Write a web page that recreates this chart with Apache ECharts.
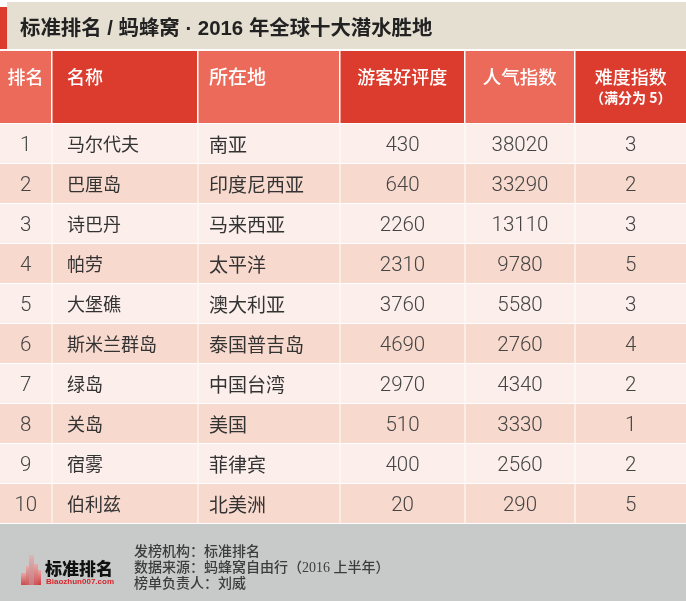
<!DOCTYPE html>
<html><head><meta charset="utf-8">
<style>html,body{margin:0;padding:0;background:#fff}#c{width:686px;height:601px}</style>
<script src="https://cdn.jsdelivr.net/npm/echarts@6/dist/echarts.min.js"></script>
</head><body><div id="c"></div>
<script>
const heading = '标准排名 / 蚂蜂窝 · 2016 年全球十大潜水胜地';
const columns = ['排名','名称','所在地','游客好评度','人气指数','难度指数'];
const subNote = '（满分为 5）';
const ranks = ['1','2','3','4','5','6','7','8','9','10'];
const names = ['马尔代夫','巴厘岛','诗巴丹','帕劳','大堡礁','斯米兰群岛','绿岛','关岛','宿雾','伯利兹'];
const places = ['南亚','印度尼西亚','马来西亚','太平洋','澳大利亚','泰国普吉岛','中国台湾','美国','菲律宾','北美洲'];
const rating = [430,640,2260,2310,3760,4690,2970,510,400,20];
const popularity = [38020,33290,13110,9780,5580,2760,4340,3330,2560,290];
const difficulty = [3,2,3,5,3,4,2,1,2,5];
const footerLines = ['发榜机构：标准排名','数据来源：蚂蜂窝自由行（2016 上半年）','榜单负责人：刘威'];
const logoName = '标准排名';
const logoSite = 'Biaozhun007.com';

const colEdges = [0,52.5,198.5,340.5,465.5,575.5,686];
const colAlign = ['center','left','left','center','center','center'];
const colPad = [0,14.5,10.5,0,0,0];
const bodyFont = [20.5,18,19,20.5,20.5,20.5];
const headFont = [18,18,19,18,18.5,18];
const HEAD_L='#ec6a5a', HEAD_D='#db3c2e', ROW_L='#fbeeeb', ROW_D='#f7d9ce';
const CJK = '"Noto Sans CJK SC","Noto Sans",sans-serif';
const LATIN = 'Roboto,"Liberation Sans",sans-serif';
const MIXED = '"Liberation Sans","Noto Sans CJK SC",sans-serif';

const bodyData = [];
ranks.forEach((rk,i)=>{
  [rk,names[i],places[i],rating[i],popularity[i],difficulty[i]].forEach((v,c)=>{
    bodyData.push({col:c,row:i,text:String(v),value:[colEdges[c],rk]});
  });
});
const headData = columns.map((t,c)=>({col:c,text:t,value:[colEdges[c],'head']}));

function cellRect(api, col, gapR, gapB){
  const a = api.coord([colEdges[col], api.value(1)]);
  const bandH = api.size([0,1])[1];
  const x1 = api.coord([colEdges[col+1], api.value(1)])[0];
  return {x:a[0], y:a[1]-bandH/2, width:x1-a[0]-gapR, height:bandH-gapB};
}
function textPos(col, r){
  return colAlign[col]==='left' ? r.x+colPad[col] : r.x+r.width/2;
}
function renderBody(params, api){
  const d = bodyData[params.dataIndex], col = d.col;
  const r = cellRect(api, col, col===5?0:1, 1);
  const numeric = col===0||col>=3;
  return {type:'group',children:[
    {type:'rect',shape:r,style:{fill:d.row%2?ROW_D:ROW_L}},
    {type:'text',x:textPos(col,r),y:r.y+r.height/2+(numeric?2:1),style:{
      text:d.text,align:colAlign[col],verticalAlign:'middle',
      fontFamily:numeric?LATIN:CJK,fontSize:bodyFont[col],fontWeight:numeric?300:400,
      fill:numeric?'#444444':'#333333'}}
  ]};
}
function renderHead(params, api){
  const d = headData[params.dataIndex], col = d.col;
  const r = cellRect(api, col, col===5?0:1.5, 0);
  const kids = [
    {type:'rect',shape:r,style:{fill:col%2?HEAD_D:HEAD_L}},
    {type:'text',x:textPos(col,r),y:r.y+26,style:{
      text:d.text,align:colAlign[col],verticalAlign:'middle',
      fontFamily:CJK,fontSize:headFont[col],fontWeight:500,fill:'#fff'}}
  ];
  if(col===5) kids.push({type:'text',x:r.x+r.width/2,y:r.y+47,style:{
    text:subNote,align:'center',verticalAlign:'middle',fontFamily:CJK,fontSize:14,fontWeight:700,fill:'#fff'}});
  return {type:'group',children:kids};
}

const logoBars = [[21,573,5,12,.8],[26,566,3,19,.7],[29,555,5,30,.5],[34,564,4,21,.75],[38,570,3,15,.9]];
const graphicEls = [
  {type:'rect',silent:true,shape:{x:7,y:2,width:679,height:47},style:{fill:'#e5dfd2'}},
  {type:'rect',silent:true,shape:{x:0,y:7,width:7,height:42},style:{fill:'#db3c2e'}},
  {type:'rect',silent:true,shape:{x:0,y:524,width:686,height:77},style:{fill:'#c8caca'}},
  {type:'text',silent:true,x:20,y:29,style:{text:heading,fontFamily:MIXED,fontSize:20.4,fontWeight:700,fill:'#222',verticalAlign:'middle'}},
  ...logoBars.map(b=>({type:'rect',silent:true,shape:{x:b[0],y:b[1],width:b[2],height:b[3]},
    style:{fill:new echarts.graphic.LinearGradient(0,0,0,1,[{offset:0,color:'#f0a0a0'},{offset:1,color:'#cf2a2e'}]),opacity:b[4]}})),
  {type:'text',silent:true,x:45,y:568.5,style:{text:logoName,fontFamily:CJK,fontSize:17,fontWeight:900,fill:'#111',verticalAlign:'middle'}},
  {type:'text',silent:true,x:46,y:581.5,style:{text:logoSite,fontFamily:'"Liberation Sans",sans-serif',fontSize:8,fontWeight:700,fill:'#d8232a',verticalAlign:'middle'}},
  ...footerLines.map((t,i)=>({type:'text',silent:true,x:134,y:552+i*16,style:{text:t,fontFamily:'"Liberation Serif","Noto Sans CJK SC",serif',fontSize:14,fontWeight:500,fill:'#3c3c3c',verticalAlign:'middle'}}))
];

const chart = echarts.init(document.getElementById('c'),null,{renderer:'canvas'});
const hiddenX = gi=>({type:'value',gridIndex:gi,min:0,max:686,show:false});
chart.setOption({
  animation:false,
  backgroundColor:'#ffffff',
  grid:[
    {left:0,top:51,width:686,height:72},
    {left:0,top:124,width:686,height:400}
  ],
  xAxis:[hiddenX(0),hiddenX(1)],
  yAxis:[
    {type:'category',gridIndex:0,data:['head'],show:false},
    {type:'category',gridIndex:1,data:ranks,inverse:true,show:false}
  ],
  graphic:{elements:graphicEls},
  series:[
    {type:'custom',xAxisIndex:0,yAxisIndex:0,silent:true,renderItem:renderHead,data:headData,encode:{x:0,y:1}},
    {type:'custom',xAxisIndex:1,yAxisIndex:1,silent:true,renderItem:renderBody,data:bodyData,encode:{x:0,y:1}}
  ]
});
</script></body></html>
